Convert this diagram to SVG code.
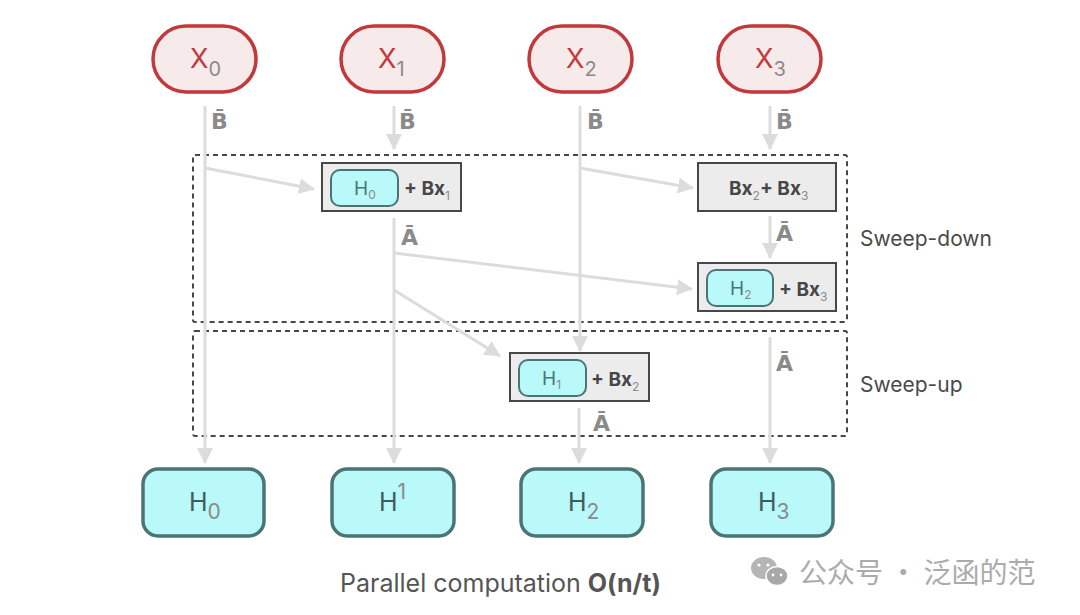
<svg xmlns="http://www.w3.org/2000/svg" width="1080" height="615" viewBox="0 0 1080 615">
<style>
.xn{fill:#f6eaea;stroke:#c2393c;stroke-width:3.5}
.xt{font-family:Inter,"Liberation Sans",sans-serif;font-size:27px;fill:#c2393c}
.sub{font-family:Inter,"Liberation Sans",sans-serif;fill:#8a8a8a}
.hn{fill:#b9f9f9;stroke:#4b7474;stroke-width:3.5}
.ht{font-family:Inter,"Liberation Sans",sans-serif;font-size:25px;fill:#3f5c5c}
.bx{fill:#ececec;stroke:#474747;stroke-width:2}
.hp{fill:#b9f9f9;stroke:#4b7474;stroke-width:2}
.hpt{font-family:Inter,"Liberation Sans",sans-serif;font-size:19px;fill:#4b7474}
.bt{font-family:Inter,"Liberation Sans",sans-serif;font-size:19px;font-weight:bold;fill:#474747}
.lb{font-family:"DejaVu Sans",sans-serif;font-size:22px;font-weight:bold;fill:#8a8a8a}
.dash{fill:none;stroke:#474747;stroke-width:2;stroke-dasharray:5 4}
.side{font-family:Inter,"Liberation Sans",sans-serif;font-size:21px;fill:#4a4a4a}
.c{stroke:#dcdcdc;stroke-width:3;fill:none;marker-end:url(#ah)}
</style>
<defs>
<marker id="ah" markerUnits="userSpaceOnUse" markerWidth="16" markerHeight="16" refX="15" refY="8" orient="auto">
<path d="M0,0 L16,8 L0,16 z" fill="#dcdcdc"/>
</marker>
</defs>
<rect width="1080" height="615" fill="#ffffff"/>

<g id="groups">
<rect class="dash" x="193" y="155" width="654" height="167" rx="2"/>
<rect class="dash" x="193" y="331" width="654" height="105" rx="2"/>
<text class="side" x="860" y="246">Sweep-down</text>
<text class="side" x="860" y="392">Sweep-up</text>
</g>

<g id="connectors">
<line class="c" x1="205" y1="106" x2="205" y2="463"/>
<line class="c" x1="205" y1="168" x2="314" y2="189"/>
<line class="c" x1="394" y1="106" x2="394" y2="149"/>
<line class="c" x1="580" y1="106" x2="580" y2="351"/>
<line class="c" x1="580" y1="168" x2="693" y2="188"/>
<line class="c" x1="770" y1="106" x2="770" y2="149"/>
<line class="c" x1="394" y1="218" x2="394" y2="463"/>
<line class="c" x1="394" y1="253" x2="692" y2="289"/>
<line class="c" x1="394" y1="290" x2="500" y2="356"/>
<line class="c" x1="770" y1="216" x2="770" y2="258"/>
<line class="c" x1="770" y1="337" x2="770" y2="463"/>
<line class="c" x1="579" y1="408" x2="579" y2="463"/>
<text class="lb" x="211" y="129">B̄</text>
<text class="lb" x="399" y="129">B̄</text>
<text class="lb" x="587" y="129">B̄</text>
<text class="lb" x="776" y="129">B̄</text>
<text class="lb" x="401" y="245">Ā</text>
<text class="lb" x="776" y="241">Ā</text>
<text class="lb" x="593" y="431">Ā</text>
<text class="lb" x="776" y="371">Ā</text>
</g>

<g id="x0"><rect class="xn" x="153" y="26" width="103" height="66" rx="33"/><text x="190" y="68"><tspan class="xt">X</tspan><tspan class="sub" font-size="20" dy="8">0</tspan></text></g>
<g id="x1"><rect class="xn" x="341" y="26" width="103" height="66" rx="33"/><text x="378" y="68"><tspan class="xt">X</tspan><tspan class="sub" font-size="20" dy="8">1</tspan></text></g>
<g id="x2"><rect class="xn" x="529" y="26" width="103" height="66" rx="33"/><text x="566" y="68"><tspan class="xt">X</tspan><tspan class="sub" font-size="20" dy="8">2</tspan></text></g>
<g id="x3"><rect class="xn" x="718" y="26" width="103" height="66" rx="33"/><text x="755" y="68"><tspan class="xt">X</tspan><tspan class="sub" font-size="20" dy="8">3</tspan></text></g>

<g id="h0bx1"><rect class="bx" x="322" y="163" width="139" height="48"/><rect class="hp" x="331" y="170" width="67" height="36" rx="9"/><text x="354" y="195"><tspan class="hpt">H</tspan><tspan class="sub" font-size="12" dy="4">0</tspan></text><text x="404" y="195"><tspan class="bt">+ Bx</tspan><tspan class="sub" font-size="12" dy="5">1</tspan></text></g>

<g id="bx2bx3"><rect class="bx" x="698" y="163" width="138" height="48"/><text x="729" y="195"><tspan class="bt">Bx</tspan><tspan class="sub" font-size="12" dy="5">2</tspan><tspan class="bt" dy="-5">+ Bx</tspan><tspan class="sub" font-size="12" dy="5">3</tspan></text></g>

<g id="h2bx3"><rect class="bx" x="698" y="263" width="138" height="48"/><rect class="hp" x="707" y="270" width="66" height="36" rx="9"/><text x="730" y="295"><tspan class="hpt">H</tspan><tspan class="sub" font-size="12" dy="4">2</tspan></text><text x="779" y="296"><tspan class="bt">+ Bx</tspan><tspan class="sub" font-size="12" dy="5">3</tspan></text></g>

<g id="h1bx2"><rect class="bx" x="510" y="353" width="139" height="48"/><rect class="hp" x="519" y="360" width="67" height="36" rx="9"/><text x="542" y="385"><tspan class="hpt">H</tspan><tspan class="sub" font-size="12" dy="4">1</tspan></text><text x="591" y="386"><tspan class="bt">+ Bx</tspan><tspan class="sub" font-size="12" dy="5">2</tspan></text></g>

<g id="out0"><rect class="hn" x="143" y="469" width="121" height="67" rx="15"/><text x="189" y="511"><tspan class="ht">H</tspan><tspan class="sub" font-size="21" dy="8">0</tspan></text></g>
<g id="out1"><rect class="hn" x="332" y="469" width="122" height="67" rx="15"/><text x="379" y="511"><tspan class="ht">H</tspan><tspan class="sub" font-size="21" dy="-12">1</tspan></text></g>
<g id="out2"><rect class="hn" x="521" y="469" width="122" height="67" rx="15"/><text x="568" y="511"><tspan class="ht">H</tspan><tspan class="sub" font-size="21" dy="8">2</tspan></text></g>
<g id="out3"><rect class="hn" x="711" y="469" width="122" height="67" rx="15"/><text x="758" y="511"><tspan class="ht">H</tspan><tspan class="sub" font-size="21" dy="8">3</tspan></text></g>

<g id="caption"><text x="340" y="592" font-family="Inter,'Liberation Sans',sans-serif" font-size="25" fill="#555"><tspan>Parallel computation </tspan><tspan font-weight="bold">O(n/t)</tspan></text></g>

<g id="watermark">
<ellipse cx="764" cy="568" rx="13" ry="11" fill="#b5b5b5"/>
<ellipse cx="777" cy="576" rx="11" ry="9.5" fill="#a8a8a8" stroke="#fff" stroke-width="1.5"/>
<circle cx="759" cy="565" r="1.6" fill="#fff"/><circle cx="768" cy="565" r="1.6" fill="#fff"/>
<circle cx="773" cy="575" r="1.4" fill="#fff"/><circle cx="781" cy="575" r="1.4" fill="#fff"/>
<text x="799" y="583" font-family="'Noto Sans CJK SC',sans-serif" font-size="28" fill="#ababab">公众号 · 泛函的范</text>
</g>
</svg>
